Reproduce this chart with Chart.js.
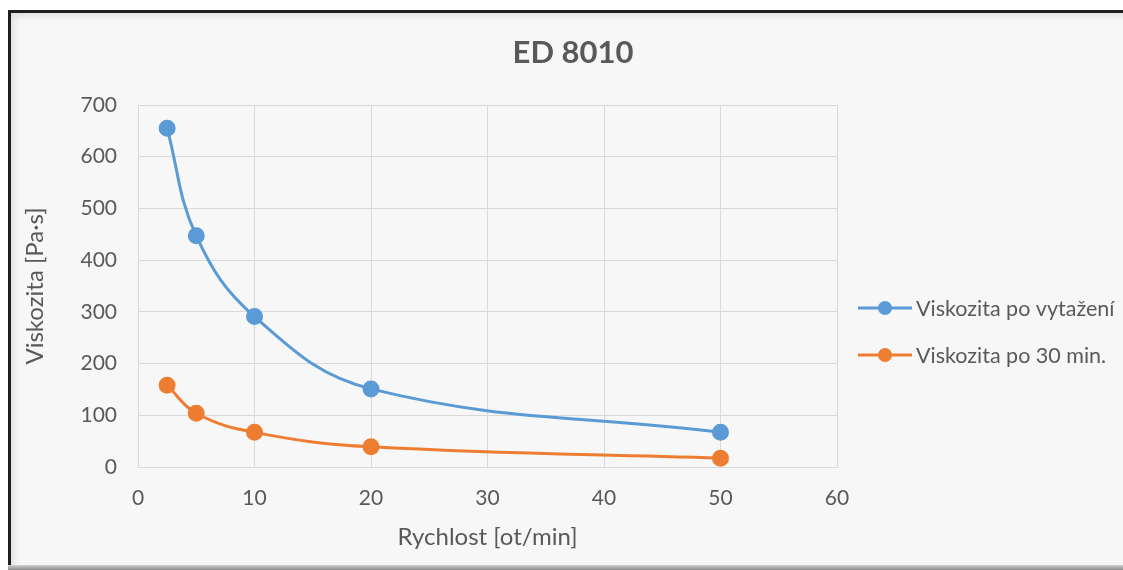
<!DOCTYPE html>
<html>
<head>
<meta charset="utf-8">
<script src="https://cdn.jsdelivr.net/npm/chart.js@4/dist/chart.umd.min.js"></script>
<style>
  html, body { margin: 0; padding: 0; background: #fff; }
  #frame {
    position: absolute; left: 8px; top: 10px; width: 1112px; height: 552px;
    background: #f7f7f7;
    border-top: 3px solid #1e1e1e; border-left: 3px solid #1e1e1e; border-right: 1px solid #d4d4d4;
    box-shadow: inset 9px 9px 8px -7px rgba(0,0,0,0.12);
  }
  #shadow {
    position: absolute; left: 8px; top: 565px; width: 1115px; height: 5px;
    background: linear-gradient(#d0d0d0, #8a8a8a);
  }
  #chart { position: absolute; left: 0; top: 0; }
</style>
</head>
<body>
<div id="frame"></div>
<div id="shadow"></div>
<canvas id="chart" width="1123" height="570"></canvas>
<script>
const speeds = [2.5, 5, 10, 20, 50];
const afterPull = [655, 447, 291, 151, 67];
const after30 = [158, 104, 67, 39, 17];
const seriesNames = ["Viskozita po vytažení", "Viskozita po 30 min."];
const seriesColors = ["#5b9bd5", "#ed7d31"];
const chartTitle = "ED 8010";
const xTitle = "Rychlost [ot/min]";
const yTitle = "Viskozita [Pa·s]";

const FONT = "Lato, 'Open Sans', sans-serif";
const TXT = "#595959";

function points(ys) {
  return speeds.map((x, i) => ({ x: x, y: ys[i] }));
}

// title + legend drawn by hand so the plot area can stay where Excel put it
const decorations = {
  id: "decorations",
  afterDraw(chart) {
    const ctx = chart.ctx;
    ctx.save();
    ctx.fillStyle = TXT;
    ctx.font = "bold 31px " + FONT;
    ctx.textAlign = "center";
    ctx.textBaseline = "middle";
    ctx.fillText(chartTitle, 573, 53);

    ctx.font = "21.5px " + FONT;
    ctx.textAlign = "left";
    chart.data.datasets.forEach((ds, i) => {
      const y = 308 + i * 47;
      ctx.strokeStyle = ds.borderColor;
      ctx.lineWidth = 3;
      ctx.beginPath();
      ctx.moveTo(858, y);
      ctx.lineTo(912, y);
      ctx.stroke();
      ctx.fillStyle = ds.backgroundColor;
      ctx.beginPath();
      ctx.arc(885, y, 7, 0, Math.PI * 2);
      ctx.fill();
      ctx.fillStyle = TXT;
      ctx.fillText(ds.label, 916, y + 1);
    });
    ctx.restore();
  }
};

new Chart(document.getElementById("chart"), {
  type: "line",
  data: {
    datasets: [
      {
        label: seriesNames[0],
        data: points(afterPull),
        borderColor: seriesColors[0],
        backgroundColor: seriesColors[0],
        borderWidth: 3,
        pointRadius: 7,
        pointHoverRadius: 7,
        tension: 0.4
      },
      {
        label: seriesNames[1],
        data: points(after30),
        borderColor: seriesColors[1],
        backgroundColor: seriesColors[1],
        borderWidth: 3,
        pointRadius: 7,
        pointHoverRadius: 7,
        tension: 0.4
      }
    ]
  },
  options: {
    responsive: false,
    devicePixelRatio: 1,
    animation: false,
    layout: { padding: { left: 12, right: 286, top: 105, bottom: 8 } },
    plugins: {
      legend: { display: false },
      title: { display: false },
      tooltip: { enabled: false }
    },
    scales: {
      x: {
        type: "linear",
        min: 0,
        max: 60,
        ticks: { stepSize: 10, color: TXT, font: { family: FONT, size: 21 }, padding: 19, maxRotation: 0 },
        grid: { color: "#d9d9d9", drawTicks: false },
        border: { color: "#d9d9d9" },
        title: { display: true, text: xTitle, color: TXT, font: { family: FONT, size: 24 }, padding: { top: 0, bottom: 10 } },
        afterFit(scale) { scale.height = 95; }
      },
      y: {
        min: 0,
        max: 700,
        ticks: { stepSize: 100, color: TXT, font: { family: FONT, size: 21 }, padding: 21 },
        grid: { color: "#d9d9d9", drawTicks: false },
        border: { color: "#d9d9d9" },
        title: { display: true, text: yTitle, color: TXT, font: { family: FONT, size: 24 }, padding: { top: 9, bottom: 0 } },
        afterFit(scale) { scale.width = 126; }
      }
    }
  },
  plugins: [decorations]
});
</script>
</body>
</html>
